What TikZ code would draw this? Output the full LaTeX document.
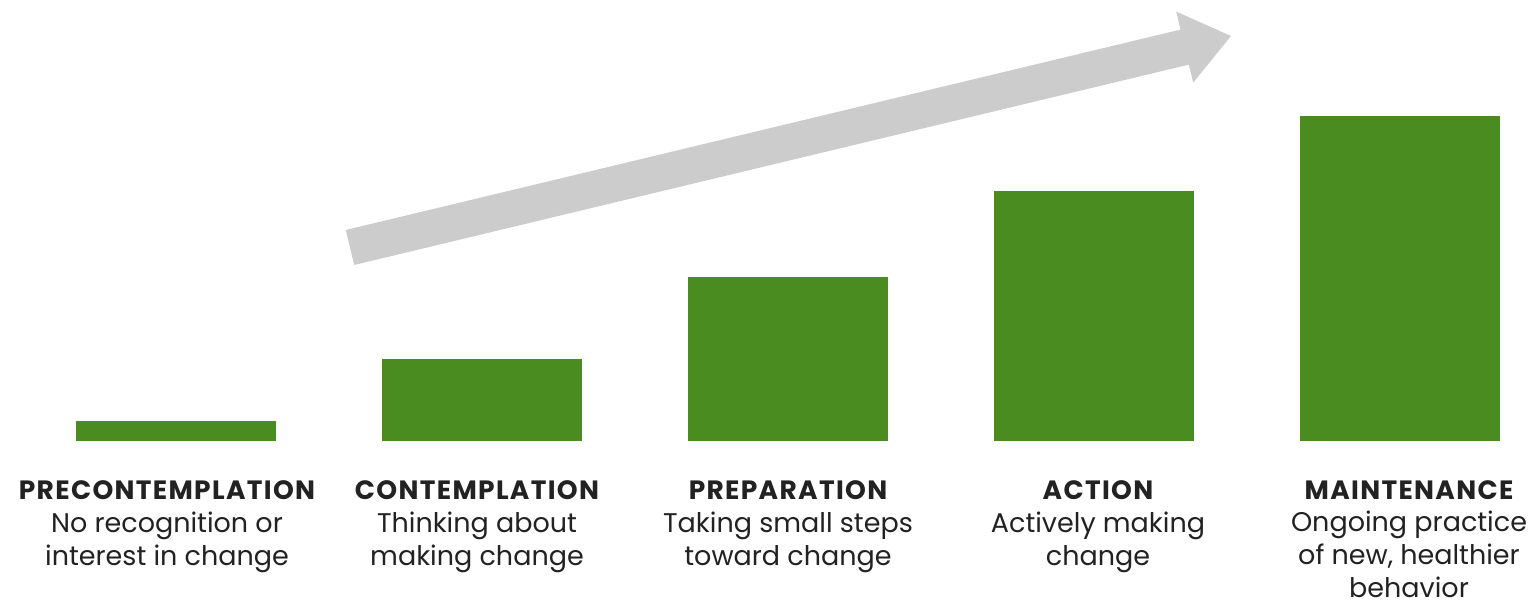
\documentclass[tikz,border=0pt]{standalone}
\usepackage{fontspec}
\setmainfont{Poppins}
\definecolor{stagegreen}{HTML}{4A8C1F}
\definecolor{arrowgray}{HTML}{CCCCCC}
\definecolor{textdark}{HTML}{222222}
\tikzset{
  stagehead/.style={anchor=base, inner sep=0pt, text=textdark,
    font=\fontsize{26.5}{33.5}\selectfont\bfseries\addfontfeatures{LetterSpace=5}},
  stagetext/.style={anchor=base, inner sep=0pt, text=textdark, align=center,
    font=\fontsize{27}{33}\selectfont}
}
\begin{document}
\begin{tikzpicture}[x=1pt, y=-1pt]
      \useasboundingbox[fill=white] (0,0) rectangle (1532,601);

      % rising arrow
      \fill[arrowgray] (345.8,230.0) -- (1180.5,29.6) -- (1176.2,11.6) -- (1231,36)
      -- (1193.2,82.6) -- (1188.9,64.6) -- (354.2,265.0) -- cycle;

      % bars
      \fill[stagegreen] (76,421) rectangle (276,441);
      \fill[stagegreen] (382,359) rectangle (582,441);
      \fill[stagegreen] (688,277) rectangle (888,441);
      \fill[stagegreen] (994,191) rectangle (1194,441);
      \fill[stagegreen] (1300,116) rectangle (1500,441);

      % stage names
      \node[stagehead] (prehead) at (167,499) {PRECONTEMPLATION};
      \node[stagehead] (conhead) at (477,499) {CONTEMPLATION};
      \node[stagehead] (prephead) at (788,499) {PREPARATION};
      \node[stagehead] (acthead) at (1098,499) {ACTION};
      \node[stagehead] (mainhead) at (1409,499) {MAINTENANCE};

      % descriptions (base = last line)
      \node[stagetext] (pretext) at (167,565) {No recognition or\\interest in change};
      \node[stagetext] (context) at (477,565) {Thinking about\\making change};
      \node[stagetext] (preptext) at (788,565) {Taking small steps\\toward change};
      \node[stagetext] (acttext) at (1098,565) {Actively making\\change};
      \node[stagetext] (maintext) at (1409,597) {Ongoing practice\\of new, healthier\\behavior};
    \end{tikzpicture}
\end{document}
